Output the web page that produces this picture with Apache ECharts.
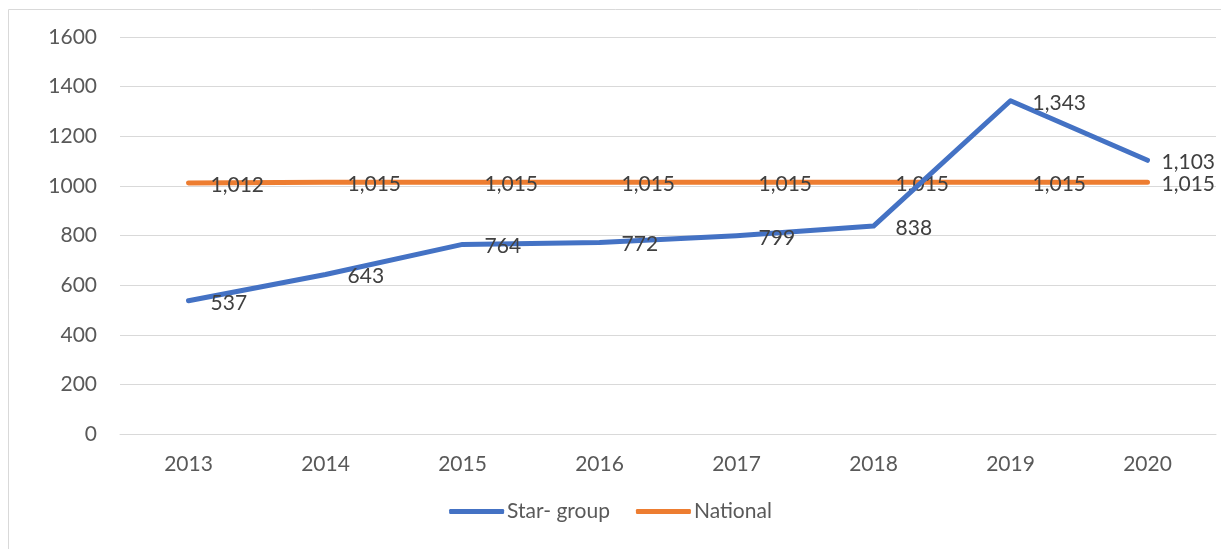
<!DOCTYPE html>
<html>
<head>
<meta charset="utf-8">
<script src="https://cdn.jsdelivr.net/npm/echarts@6/dist/echarts.min.js"></script>
<style>
html,body{margin:0;padding:0;background:#fff;}
#chart{width:1221px;height:549px;}
</style>
</head>
<body>
<div id="chart"></div>
<script>
var years = ['2013', '2014', '2015', '2016', '2017', '2018', '2019', '2020'];
var starGroup = [537, 643, 764, 772, 799, 838, 1343, 1103];
var national = [1012, 1015, 1015, 1015, 1015, 1015, 1015, 1015];
var yTicks = [0, 1600, 200]; // min, max, interval

var myChart = echarts.init(document.getElementById('chart'));
var fontName = 'Lato, "Open Sans", sans-serif';

function fmt(p) {
	return p.value.toLocaleString('en-US');
}

// last label sits closer to its point so it stays inside the chart
function withLabels(arr) {
	return arr.map(function (v, i) {
		if (i == arr.length - 1) {
			return { value: v, label: { distance: 14 } };
		}
		return v;
	});
}

var option = {
	animation: false,
	color: ['#4472C4', '#ED7D31'],
	textStyle: { fontFamily: fontName },
	graphic: [{
		type: 'rect',
		shape: { x: 8.5, y: 9.5, width: 1230, height: 560 },
		style: { fill: 'none', stroke: '#d9d9d9', lineWidth: 1 }
	}],
	grid: { left: 120, top: 37, width: 1096, height: 397 },
	legend: {
		data: ['Star- group', 'National'],
		bottom: 22,
		left: 'center',
		icon: 'roundRect',
		itemWidth: 55,
		itemHeight: 5,
		itemGap: 26,
		textStyle: { fontSize: 21, color: '#595959', fontFamily: fontName, padding: [0, 0, 0, -2] }
	},
	xAxis: {
		type: 'category',
		data: years,
		axisLine: { lineStyle: { color: '#d9d9d9', width: 1 } },
		axisTick: { show: false },
		axisLabel: { fontSize: 21, color: '#595959', margin: 20, fontFamily: fontName }
	},
	yAxis: {
		type: 'value',
		min: yTicks[0],
		max: yTicks[1],
		interval: yTicks[2],
		axisLine: { show: false },
		axisTick: { show: false },
		splitLine: { lineStyle: { color: '#d9d9d9', width: 1 } },
		axisLabel: {
			fontSize: 21, color: '#595959', margin: 23, fontFamily: fontName,
			formatter: function (v) { return String(v); }
		}
	},
	series: [
		{
			name: 'Star- group',
			type: 'line',
			data: withLabels(starGroup),
			symbol: 'circle',
			symbolSize: 0.1,
			lineStyle: { width: 5, cap: 'round', join: 'round' },
			z: 3,
			label: {
				show: true,
				position: 'right',
				distance: 22,
				offset: [0, 2],
				fontSize: 21,
				color: '#404040',
				fontFamily: fontName,
				formatter: fmt
			}
		},
		{
			name: 'National',
			type: 'line',
			data: withLabels(national),
			symbol: 'circle',
			symbolSize: 0.1,
			lineStyle: { width: 5, cap: 'round', join: 'round' },
			z: 2,
			label: {
				show: true,
				position: 'right',
				distance: 22,
				offset: [0, 2],
				fontSize: 21,
				color: '#404040',
				fontFamily: fontName,
				formatter: fmt
			}
		}
	]
};
myChart.setOption(option);
window.addEventListener("resize", function () {
	myChart.resize();
});
</script>
</body>
</html>
